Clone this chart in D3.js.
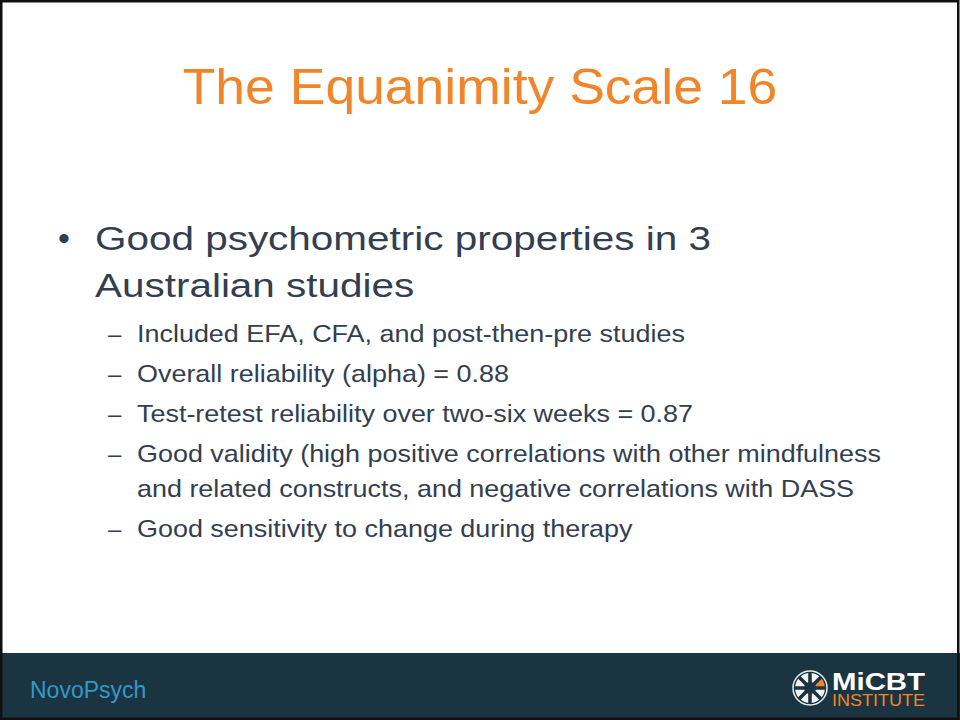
<!DOCTYPE html>
<html>
<head>
<meta charset="utf-8">
<script src="https://cdn.jsdelivr.net/npm/d3@7"></script>
<style>
  html, body { margin: 0; padding: 0; background: #fff; }
  svg { display: block; }
</style>
</head>
<body>
<svg id="slide"></svg>
<script>
// slide content
const title = "The Equanimity Scale 16";
const mainBullet = ["Good psychometric properties in 3", "Australian studies"];
const subBullets = [
    ["Included EFA, CFA, and post-then-pre studies"],
    ["Overall reliability (alpha) = 0.88"],
    ["Test-retest reliability over two-six weeks = 0.87"],
    ["Good validity (high positive correlations with other mindfulness",
     "and related constructs, and negative correlations with DASS"],
    ["Good sensitivity to change during therapy"]
];
const footerLeft = "NovoPsych";
const logoWord = "MiCBT";
const logoSub = "INSTITUTE";
const wheelSegments = [0, 1, 2, 3, 4, 5, 6, 7];
const wheelHighlight = 1;

const width = 960, height = 720;
const font = "'Liberation Sans', Arial, Helvetica, sans-serif";
const textColor = "#333e50";
const orange = "#f0852a";
const navy = "#1b3441";

// the original glyphs run wider than Arial, so stretch a little horizontally
const stretch = (x, s) => `translate(${x},0) scale(${s},1) translate(${-x},0)`;

const svg = d3.select("#slide").attr("width", width).attr("height", height);

svg.append("rect")
    .attr("x", 0).attr("y", 0)
    .attr("width", width).attr("height", height)
    .attr("fill", "#fff");

// footer band
svg.append("rect")
    .attr("x", 0).attr("y", 653)
    .attr("width", width).attr("height", height - 653)
    .attr("fill", navy);

// title
svg.append("text")
    .attr("x", width / 2)
    .attr("y", 104)
    .attr("text-anchor", "middle")
    .attr("font-family", font)
    .attr("font-size", 50)
    .attr("fill", orange)
    .attr("transform", stretch(width / 2, 1.07))
    .text(title);

// text flow: main bullet then sub bullets
const mainSize = 34, subSize = 24;
const mainLead = 47, subLead = 35, paraGap = 5;

let cursor = 250;
const mainLines = mainBullet.map((t, i) => ({ t, y: cursor + i * mainLead }));
cursor = mainLines[mainLines.length - 1].y + 45;

const subLines = [];
subBullets.forEach((item, k) => {
    if (k > 0) cursor += paraGap;
    item.forEach((t, i) => {
        subLines.push({ t, y: cursor, first: i === 0 });
        cursor += subLead;
    });
});

const body = svg.append("g")
    .attr("font-family", font)
    .attr("fill", textColor);

body.append("text")
    .attr("x", 58)
    .attr("y", mainLines[0].y)
    .attr("font-size", mainSize)
    .text("\u2022");

body.append("g")
    .attr("transform", stretch(95, 1.19))
    .selectAll(".main-line")
    .data(mainLines)
    .join("text")
    .attr("class", "main-line")
    .attr("x", 95)
    .attr("y", d => d.y)
    .attr("font-size", mainSize)
    .text(d => d.t);

body.selectAll(".dash")
    .data(subLines.filter(d => d.first))
    .join("text")
    .attr("class", "dash")
    .attr("x", 108)
    .attr("y", d => d.y)
    .attr("font-size", subSize)
    .text("\u2013");

body.append("g")
    .attr("transform", stretch(137, 1.123))
    .selectAll(".sub-line")
    .data(subLines)
    .join("text")
    .attr("class", "sub-line")
    .attr("x", 137)
    .attr("y", d => d.y)
    .attr("font-size", subSize)
    .text(d => d.t);

// footer texts
svg.append("text")
    .attr("x", 30)
    .attr("y", 698)
    .attr("font-family", font)
    .attr("font-size", 23)
    .attr("fill", "#3399c6")
    .text(footerLeft);

// logo wheel
const wheel = svg.append("g").attr("transform", "translate(810,688)");

wheel.append("circle")
    .attr("r", 17)
    .attr("fill", "none")
    .attr("stroke", "#e8ecef")
    .attr("stroke-width", 1.5);

const pie = d3.pie().value(1).sort(null).padAngle(0.22);
const arc = d3.arc().innerRadius(6).outerRadius(15);

wheel.selectAll("path")
    .data(pie(wheelSegments))
    .join("path")
    .attr("d", arc)
    .attr("fill", d => d.index === wheelHighlight ? orange : "#f2f4f5");

svg.append("text")
    .attr("x", 832)
    .attr("y", 690)
    .attr("font-family", font)
    .attr("font-weight", "bold")
    .attr("font-size", 23)
    .attr("fill", "#fff")
    .attr("textLength", 93)
    .attr("lengthAdjust", "spacingAndGlyphs")
    .text(logoWord);

svg.append("text")
    .attr("x", 832)
    .attr("y", 706)
    .attr("font-family", font)
    .attr("font-size", 16)
    .attr("fill", orange)
    .attr("textLength", 93)
    .attr("lengthAdjust", "spacingAndGlyphs")
    .text(logoSub);

// frame
svg.append("rect")
    .attr("x", 1.25).attr("y", 1.25)
    .attr("width", width - 3).attr("height", height - 2.5)
    .attr("fill", "none")
    .attr("stroke", "#111")
    .attr("stroke-width", 2.5);
</script>
</body>
</html>
